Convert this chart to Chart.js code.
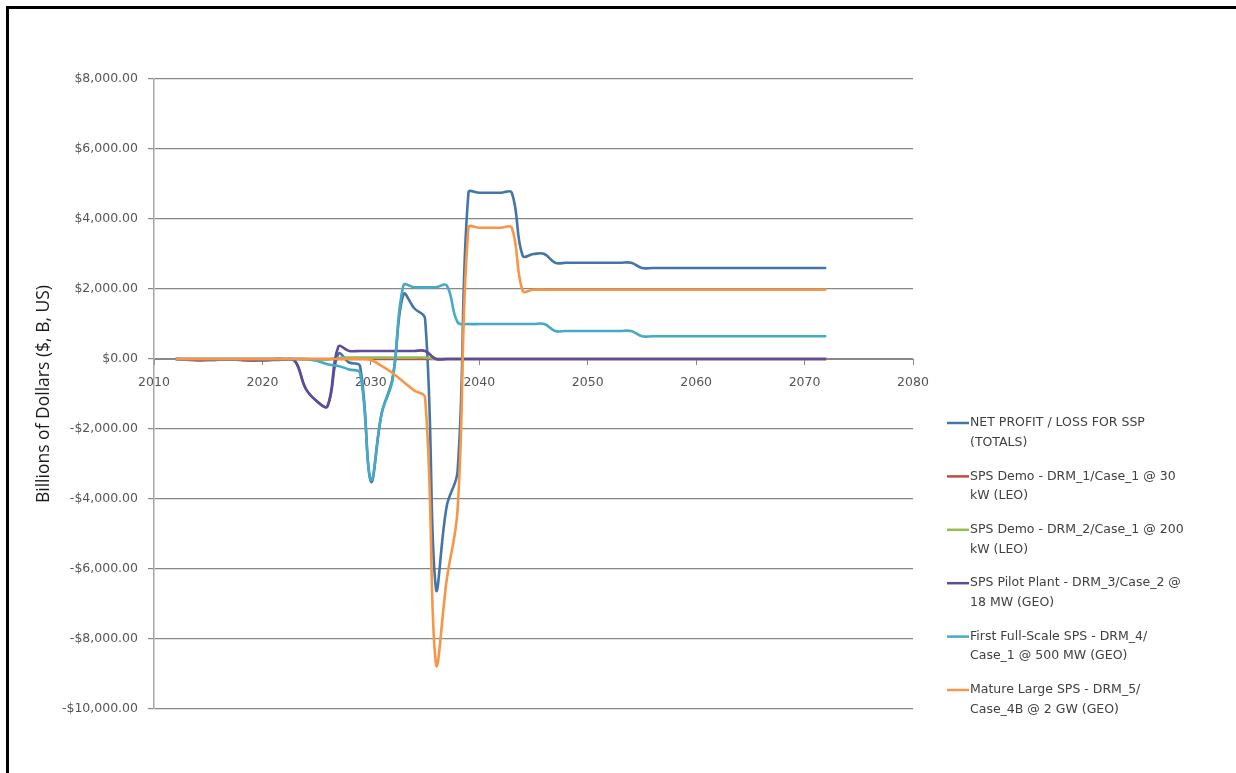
<!DOCTYPE html>
<html>
<head>
<meta charset="utf-8">
<script src="https://cdn.jsdelivr.net/npm/chart.js@4.4.0/dist/chart.umd.min.js"></script>
<style>
    html, body { margin: 0; padding: 0; background: #fff; overflow: hidden; }
    #wrap { position: relative; width: 1236px; height: 773px; overflow: hidden; }
    .edge { position: absolute; background: #000; }
    #edgeTop { left: 6px; top: 6px; width: 1230px; height: 3px; }
    #edgeLeft { left: 6px; top: 6px; width: 3px; height: 767px; }
    #myChart { position: absolute; left: 0; top: 0; }
</style>
</head>
<body>
<div id="wrap">
    <div class="edge" id="edgeTop"></div>
    <div class="edge" id="edgeLeft"></div>
    <canvas id="myChart" width="1236" height="773"></canvas>
</div>
<script>
var years = [
    2012, 2013, 2014, 2015, 2016, 2017, 2018, 2019, 2020, 2021,
    2022, 2023, 2024, 2025, 2026, 2027, 2028, 2029, 2030, 2031,
    2032, 2033, 2034, 2035, 2036, 2037, 2038, 2039, 2040, 2041,
    2042, 2043, 2044, 2045, 2046, 2047, 2048, 2049, 2050, 2051,
    2052, 2053, 2054, 2055, 2056, 2057, 2058, 2059, 2060, 2061,
    2062, 2063, 2064, 2065, 2066, 2067, 2068, 2069, 2070, 2071,
    2072
];

// billions of dollars per year
var netTotal = [
    0, -10, -20, -30, -20, -10, -20, -40, -40, -30,
    -20, -60, -850, -1200, -1350, 150, -100, -200, -3500, -1550,
    -550, 1850, 1450, 1150, -6550, -4200, -3200, 4750, 4750, 4750,
    4750, 4750, 2950, 3000, 3000, 2750, 2750, 2750, 2750, 2750,
    2750, 2750, 2750, 2600, 2600, 2600, 2600, 2600, 2600, 2600,
    2600, 2600, 2600, 2600, 2600, 2600, 2600, 2600, 2600, 2600,
    2600
];
var demo1 = [
    0, -20, -40, -30, -20, -10, -30, -40, -30, -20,
    -10, 0, 0, 0, 0, 0, 0, 0, 0, 0,
    0, 0, 0, 0, 0, 0, 0, 0, 0, 0,
    0, 0, 0, 0, 0, 0, 0, 0, 0, 0,
    0, 0, 0, 0, 0, 0, 0, 0, 0, 0,
    0, 0, 0, 0, 0, 0, 0, 0, 0, 0,
    0
];
var demo2 = [
    0, 0, 0, 0, 0, 0, 0, 0, 0, 0,
    0, 0, -20, -30, -20, 30, 40, 40, 40, 40,
    40, 40, 40, 40, 0, 0, 0, 0, 0, 0,
    0, 0, 0, 0, 0, 0, 0, 0, 0, 0,
    0, 0, 0, 0, 0, 0, 0, 0, 0, 0,
    0, 0, 0, 0, 0, 0, 0, 0, 0, 0,
    0
];
var pilot = [
    0, 0, 0, 0, 0, 0, 0, 0, 0, 0,
    0, -50, -850, -1200, -1350, 350, 230, 230, 230, 230,
    230, 230, 230, 230, 0, 0, 0, 0, 0, 0,
    0, 0, 0, 0, 0, 0, 0, 0, 0, 0,
    0, 0, 0, 0, 0, 0, 0, 0, 0, 0,
    0, 0, 0, 0, 0, 0, 0, 0, 0, 0,
    0
];
var fullScale = [
    0, 0, 0, 0, 0, 0, 0, 0, 0, 0,
    0, 0, 0, -50, -150, -200, -300, -400, -3450, -1550,
    -600, 2100, 2050, 2050, 2050, 2100, 1050, 1000, 1000, 1000,
    1000, 1000, 1000, 1000, 1000, 800, 800, 800, 800, 800,
    800, 800, 800, 650, 650, 650, 650, 650, 650, 650,
    650, 650, 650, 650, 650, 650, 650, 650, 650, 650,
    650
];
var mature = [
    0, 0, 0, 0, 0, 0, 0, 0, 0, 0,
    0, 0, 0, 0, 0, 0, 0, 0, -30, -200,
    -400, -650, -900, -1100, -8700, -6300, -4300, 3750, 3750, 3750,
    3750, 3750, 1950, 1980, 1980, 1980, 1980, 1980, 1980, 1980,
    1980, 1980, 1980, 1980, 1980, 1980, 1980, 1980, 1980, 1980,
    1980, 1980, 1980, 1980, 1980, 1980, 1980, 1980, 1980, 1980,
    1980
];

var seriesNames = [
    ['NET PROFIT / LOSS FOR SSP', '(TOTALS)'],
    ['SPS Demo - DRM_1/Case_1 @ 30', 'kW (LEO)'],
    ['SPS Demo - DRM_2/Case_1 @ 200', 'kW (LEO)'],
    ['SPS Pilot Plant - DRM_3/Case_2 @', '18 MW (GEO)'],
    ['First Full-Scale SPS - DRM_4/', 'Case_1 @ 500 MW (GEO)'],
    ['Mature Large SPS - DRM_5/', 'Case_4B @ 2 GW (GEO)']
];
var seriesValues = [netTotal, demo1, demo2, pilot, fullScale, mature];
var seriesColors = ['#4475A8', '#BE4B48', '#98B954', '#5F4B9A', '#46AAC5', '#F79646'];

var tickFont = { family: '"DejaVu Sans", sans-serif', size: 12.5 };
var tickColor = '#555555';

function money(v) {
    var s = '$' + Math.abs(v).toLocaleString('en-US', { minimumFractionDigits: 2, maximumFractionDigits: 2 });
    return v < 0 ? '-' + s : s;
}

// legend on the right, two lines of text per entry
var sideLegend = {
    id: 'sideLegend',
    afterDraw: function (chart) {
        var c = chart.ctx;
        c.save();
        c.font = '12.5px "DejaVu Sans", sans-serif';
        c.textBaseline = 'middle';
        c.textAlign = 'left';
        seriesNames.forEach(function (lines, i) {
            var y = 423 + i * 53.4;
            c.strokeStyle = seriesColors[i];
            c.lineWidth = 2.5;
            c.beginPath();
            c.moveTo(947, y);
            c.lineTo(969, y);
            c.stroke();
            c.fillStyle = '#404040';
            lines.forEach(function (t, j) {
                c.fillText(t, 970, y + j * 19.5);
            });
        });
        c.restore();
    }
};

var ctx = document.getElementById('myChart');
var sspChart = new Chart(ctx, {
    type: 'line',
    data: {
        datasets: seriesValues.map(function (vals, i) {
            return {
                label: seriesNames[i].join(' '),
                data: years.map(function (yr, k) { return { x: yr, y: vals[k] }; }),
                borderColor: seriesColors[i],
                backgroundColor: seriesColors[i],
                order: seriesValues.length - i   // later series on top, like the original
            };
        })
    },
    options: {
        responsive: false,
        animation: false,
        layout: { padding: { left: 30, top: 79, right: 323, bottom: 64 } },
        elements: {
            point: { radius: 0 },
            line: { tension: 0.4, borderWidth: 2.6, fill: false }
        },
        plugins: {
            legend: { display: false },
            tooltip: { enabled: false }
        },
        scales: {
            x: {
                type: 'linear',
                min: 2010,
                max: 2080,
                position: { y: 0 },
                ticks: {
                    stepSize: 10,
                    font: tickFont,
                    color: tickColor,
                    padding: 11,
                    maxRotation: 0,
                    callback: function (v) { return String(v); }
                },
                grid: { drawOnChartArea: false, tickLength: 5, color: '#888888' },
                border: { color: '#888888', width: 1 }
            },
            y: {
                min: -10000,
                max: 8000,
                ticks: {
                    stepSize: 2000,
                    font: tickFont,
                    color: tickColor,
                    padding: 10,
                    callback: money
                },
                grid: { color: '#888888', tickLength: 6, lineWidth: 1.2 },
                border: { color: '#a6a6a6', width: 1.5 },
                title: {
                    display: true,
                    text: 'Billions of Dollars ($, B, US)',
                    font: { family: '"Open Sans", sans-serif', size: 17.5 },
                    color: '#1a1a1a',
                    padding: { top: 4, bottom: 0 }
                },
                afterFit: function (scale) { scale.width = 124; }
            }
        }
    },
    plugins: [sideLegend]
});
</script>
</body>
</html>
